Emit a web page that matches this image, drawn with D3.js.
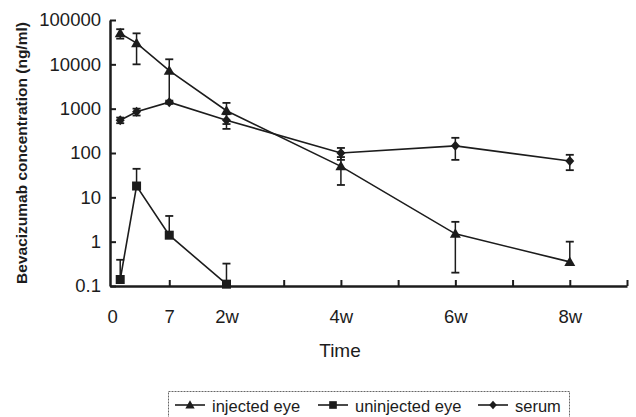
<!DOCTYPE html>
<html>
<head>
<meta charset="utf-8">
<script src="https://cdn.jsdelivr.net/npm/d3@7"></script>
<style>
  html, body { margin: 0; padding: 0; background: #fff; }
  svg { display: block; font-family: "Liberation Sans", Arial, sans-serif; }
</style>
</head>
<body>
<svg id="chart" width="636" height="417"></svg>
<script>
// Sampling days after injection
const injectedDays = [1, 3, 7, 14, 28, 42, 56];
const injectedMean = [50000, 30000, 7200, 900, 50, 1.5, 0.35];
const injectedSD   = [12000, 20000, 5800, 450, 31, 1.3, 0.65];

const uninjectedDays = [1, 3, 7, 14];
const uninjectedMean = [0.14, 18, 1.4, 0.11];
const uninjectedSD   = [0.25, 26, 2.4, 0.21];

const serumDays = [1, 3, 7, 14, 28, 42, 56];
const serumMean = [550, 850, 1400, 550, 100, 145, 66];
const serumSD   = [80, 150, 120, 200, 30, 75, 25];

const xTickDays   = [7, 14, 21, 28, 35, 42, 49, 56, 63];
const xLabelDays  = [0, 7, 14, 28, 42, 56];
const xLabelTexts = ["0", "7", "2w", "4w", "6w", "8w"];
const yTicks      = [0.1, 1, 10, 100, 1000, 10000, 100000];
const yTickLabels = ["0.1", "1", "10", "100", "1000", "10000", "100000"];

const seriesNames = ["injected eye", "uninjected eye", "serum"];

const ink = "#1c1c1c";
const svg = d3.select("#chart");

const x = d3.scaleLinear().domain([-0.25, 63]).range([110, 627]);
const y = d3.scaleLog().domain([0.1, 100000]).range([286, 20]);

// marker shapes
function markerPath(kind) {
  if (kind === "triangle") return "M0,-5.5L5.5,4L-5.5,4Z";
  if (kind === "square") return "M-4.5,-4.5H4.5V4.5H-4.5Z";
  return "M0,-5L4.5,0L0,5L-4.5,0Z";
}

const series = [
  { name: seriesNames[0], days: injectedDays, mean: injectedMean, sd: injectedSD, kind: "triangle" },
  { name: seriesNames[1], days: uninjectedDays, mean: uninjectedMean, sd: uninjectedSD, kind: "square" },
  { name: seriesNames[2], days: serumDays, mean: serumMean, sd: serumSD, kind: "diamond" }
];

// axes
const yAxis = d3.axisLeft(y).tickValues(yTicks).tickSizeInner(-6).tickSizeOuter(0)
  .tickPadding(10).tickFormat((d, i) => yTickLabels[i]);
const gy = svg.append("g").attr("transform", "translate(110,0)").call(yAxis);
gy.select(".domain").attr("stroke", ink).attr("stroke-width", 2.5);
gy.selectAll(".tick line").attr("stroke", ink).attr("stroke-width", 2);
gy.selectAll(".tick text").attr("font-size", 18.5).attr("fill", ink).attr("x", -9);

const xAxisTicks = d3.axisBottom(x).tickValues(xTickDays).tickSizeInner(-6).tickSizeOuter(0)
  .tickFormat("");
const gx = svg.append("g").attr("transform", "translate(0,286)").call(xAxisTicks);
gx.select(".domain").attr("stroke", ink).attr("stroke-width", 2.5);
gx.selectAll(".tick line").attr("stroke", ink).attr("stroke-width", 2);

const xLabels = d3.axisBottom(x).tickValues(xLabelDays).tickSize(0).tickPadding(24)
  .tickFormat((d, i) => xLabelTexts[i]);
const gxl = svg.append("g").attr("transform", "translate(0,286)").call(xLabels);
gxl.select(".domain").remove();
gxl.selectAll(".tick text").attr("font-size", 18.5).attr("fill", ink);

// axis titles
svg.append("text")
  .attr("transform", "translate(27,153) rotate(-90)")
  .attr("text-anchor", "middle")
  .attr("font-size", 15.5).attr("font-weight", "bold").attr("fill", ink)
  .text("Bevacizumab concentration (ng/ml)");

svg.append("text")
  .attr("x", 340).attr("y", 357)
  .attr("text-anchor", "middle")
  .attr("font-size", 19).attr("fill", ink)
  .text("Time");

// lines, error bars and markers
const line = d3.line().x(d => x(d.day)).y(d => y(d.v));
const cap = 4;

series.forEach(s => {
  const pts = s.days.map((d, i) => ({ day: d, v: s.mean[i], sd: s.sd[i] }));
  const g = svg.append("g");
  g.append("path").datum(pts).attr("d", line)
    .attr("fill", "none").attr("stroke", ink).attr("stroke-width", 1.6);

  pts.forEach(p => {
    const cx = x(p.day);
    const top = y(p.v + p.sd);
    const lowVal = p.v - p.sd;
    const bottom = lowVal > 0 ? y(lowVal) : y(p.v);
    g.append("line").attr("x1", cx).attr("x2", cx).attr("y1", top).attr("y2", bottom)
      .attr("stroke", ink).attr("stroke-width", 1.5);
    g.append("line").attr("x1", cx - cap).attr("x2", cx + cap).attr("y1", top).attr("y2", top)
      .attr("stroke", ink).attr("stroke-width", 1.8);
    if (lowVal > 0) {
      g.append("line").attr("x1", cx - cap).attr("x2", cx + cap).attr("y1", bottom).attr("y2", bottom)
        .attr("stroke", ink).attr("stroke-width", 1.8);
    }
  });

  g.selectAll("path.mark").data(pts).join("path")
    .attr("class", "mark")
    .attr("transform", d => `translate(${x(d.day)},${y(d.v)})`)
    .attr("d", markerPath(s.kind))
    .attr("fill", ink);
});

// legend
const legend = svg.append("g");
legend.append("rect")
  .attr("x", 168.5).attr("y", 391.5).attr("width", 401).attr("height", 40)
  .attr("fill", "none").attr("stroke", "#666").attr("stroke-width", 1)
  .attr("stroke-dasharray", "2,1");

const legendX = [175, 318, 478];
series.forEach((s, i) => {
  const lx = legendX[i];
  const g = legend.append("g");
  g.append("line").attr("x1", lx).attr("x2", lx + 30).attr("y1", 405).attr("y2", 405)
    .attr("stroke", ink).attr("stroke-width", 1.6);
  g.append("path").attr("transform", `translate(${lx + 15},405) scale(0.85)`)
    .attr("d", markerPath(s.kind)).attr("fill", ink);
  g.append("text").attr("x", lx + 37).attr("y", 412)
    .attr("font-size", 16.5).attr("fill", ink).text(s.name);
});
</script>
</body>
</html>
